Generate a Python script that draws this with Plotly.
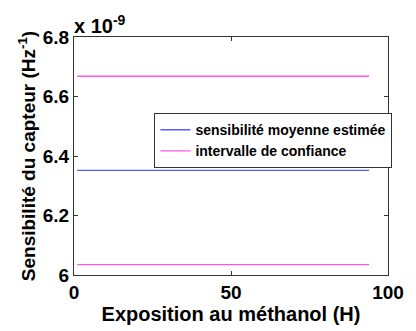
import plotly.graph_objects as go

# Sensor sensitivity over methanol exposure (values in units of 1e-9 Hz^-1)
exposure_h = [1, 94]
mean_sensitivity = [6.352, 6.352]
ci_upper = [6.668, 6.668]
ci_lower = [6.035, 6.035]

y_ticks = [6.0, 6.2, 6.4, 6.6, 6.8]
y_tick_text = ["6", "6.2", "6.4", "6.6", "6.8"]
x_ticks = [0, 50, 100]

font_family = "Liberation Sans, Arial, sans-serif"

fig = go.Figure()
fig.add_trace(go.Scatter(x=exposure_h, y=mean_sensitivity, mode="lines",
                         line=dict(color="#5a5aff", width=1.3),
                         name="sensibilité moyenne estimée"))
fig.add_trace(go.Scatter(x=exposure_h, y=ci_upper, mode="lines",
                         line=dict(color="#ff55ee", width=1.3),
                         name="intervalle de confiance"))
fig.add_trace(go.Scatter(x=exposure_h, y=ci_lower, mode="lines",
                         line=dict(color="#ff55ee", width=1.3),
                         name="intervalle de confiance", showlegend=False))

axis_common = dict(showgrid=False, zeroline=False, showline=True, mirror="ticks",
                   linecolor="#333333", linewidth=1, ticks="inside", ticklen=4,
                   tickcolor="#333333",
                   tickfont=dict(family=font_family, size=19, color="black", weight="bold"))

fig.update_xaxes(range=[0, 100], tickvals=x_ticks,
                 title=dict(text="<b>Exposition au méthanol (H)</b>",
                            font=dict(family=font_family, size=20, color="black"),
                            standoff=2),
                 **axis_common)
fig.update_yaxes(range=[6.0, 6.8], tickvals=y_ticks, ticktext=y_tick_text,
                 title=dict(text="<b>Sensibilité du capteur (Hz<sup>-1</sup>)</b>",
                            font=dict(family=font_family, size=19, color="black"),
                            standoff=2),
                 **axis_common)

fig.add_annotation(xref="paper", yref="paper", x=0, y=1, xanchor="left", yanchor="bottom",
                   text="<b>x 10<sup>-9</sup></b>", showarrow=False, yshift=-2, xshift=-2,
                   font=dict(family=font_family, size=20, color="black"))

fig.update_layout(
    width=416, height=331,
    margin=dict(l=74, r=17, t=37, b=53),
    paper_bgcolor="white", plot_bgcolor="white",
    showlegend=True,
    legend=dict(x=0.256, y=0.68, xanchor="left", yanchor="top",
                bgcolor="white", bordercolor="#333333", borderwidth=1,
                font=dict(family=font_family, size=14, color="black", weight="bold"),
                tracegroupgap=0, itemwidth=30),
)

fig.write_html("out.html")
